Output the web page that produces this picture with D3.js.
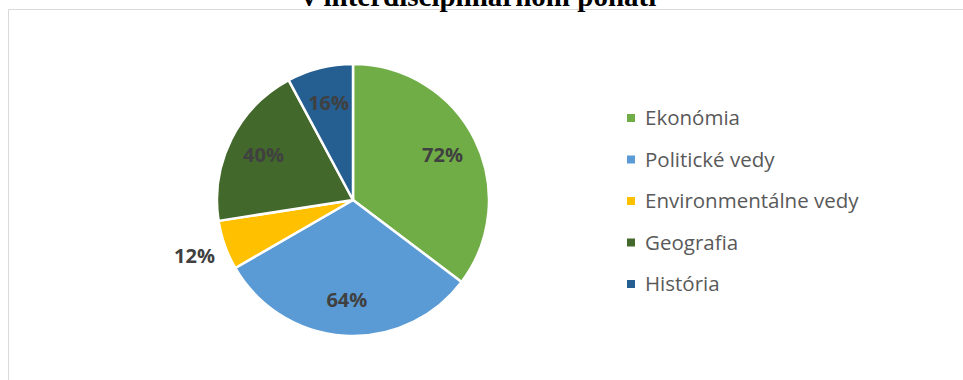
<!DOCTYPE html>
<html>
<head>
<meta charset="utf-8">
<script src="https://cdn.jsdelivr.net/npm/d3@7"></script>
<style>
  body { margin: 0; background: #fff; }
  svg { display: block; }
</style>
</head>
<body>
<div id="chart"></div>
<script>
// chart values
var categories = ['Ekonómia', 'Politické vedy', 'Environmentálne vedy', 'Geografia', 'História'];
var values = [72, 64, 12, 40, 16];
var valueLabels = ['72%', '64%', '12%', '40%', '16%'];
var colors = ['#70ad47', '#5b9bd5', '#ffc000', '#43682b', '#255e91'];
var titleText = 'v interdisciplinárnom poňatí';

var width = 963, height = 380;
var cx = 353, cy = 200, radius = 136;

var svg = d3.select('#chart').append('svg')
  .attr('width', width)
  .attr('height', height);

// chart frame (only top and left edges are visible)
svg.append('path')
  .attr('d', 'M8.5,380 L8.5,9.5 L963,9.5')
  .attr('fill', 'none')
  .attr('stroke', '#d9d9d9')
  .attr('stroke-width', 1);

// title, clipped by the top of the image like in the original
svg.append('text')
  .attr('x', 479)
  .attr('y', 6)
  .attr('text-anchor', 'middle')
  .attr('font-family', '"Liberation Serif", "Times New Roman", serif')
  .attr('font-weight', 'bold')
  .attr('font-size', 29)
  .attr('fill', '#000')
  .text(titleText);

var items = categories.map(function(c, i) {
  return { name: c, value: values[i], label: valueLabels[i], color: colors[i] };
});

var pie = d3.pie()
  .sort(null)
  .value(function(d) { return d.value; });

var arc = d3.arc().innerRadius(0).outerRadius(radius);
var labelArc = d3.arc().innerRadius(100).outerRadius(100);
var outerLabelArc = d3.arc().innerRadius(168).outerRadius(168);

var g = svg.append('g')
  .attr('transform', 'translate(' + cx + ',' + cy + ')');

var arcs = pie(items);

g.selectAll('path.slice')
  .data(arcs)
  .enter()
  .append('path')
  .attr('class', 'slice')
  .attr('d', arc)
  .attr('fill', function(d) { return d.data.color; })
  .attr('stroke', '#fff')
  .attr('stroke-width', 2.5)
  .attr('stroke-linejoin', 'round');

// small slices get their label outside
g.selectAll('text.value')
  .data(arcs)
  .enter()
  .append('text')
  .attr('class', 'value')
  .attr('transform', function(d) {
    var outside = (d.endAngle - d.startAngle) < 0.4;
    var p = (outside ? outerLabelArc : labelArc).centroid(d);
    return 'translate(' + p[0] + ',' + p[1] + ')';
  })
  .attr('text-anchor', 'middle')
  .attr('dy', '0.35em')
  .attr('font-family', '"Open Sans", sans-serif')
  .attr('font-weight', 'bold')
  .attr('font-size', 20)
  .attr('fill', '#404040')
  .text(function(d) { return d.data.label; });

// legend
var legendY = d3.scalePoint()
  .domain(categories)
  .range([118, 284]);

var legend = svg.append('g').attr('class', 'legend');

var rows = legend.selectAll('g')
  .data(items)
  .enter()
  .append('g')
  .attr('transform', function(d) { return 'translate(627,' + legendY(d.name) + ')'; });

rows.append('rect')
  .attr('x', 0)
  .attr('y', -4)
  .attr('width', 8)
  .attr('height', 8)
  .attr('fill', function(d) { return d.color; });

rows.append('text')
  .attr('x', 18)
  .attr('dy', '0.35em')
  .attr('font-family', '"Open Sans", sans-serif')
  .attr('font-size', 20.5)
  .attr('fill', '#595959')
  .text(function(d) { return d.name; });
</script>
</body>
</html>
